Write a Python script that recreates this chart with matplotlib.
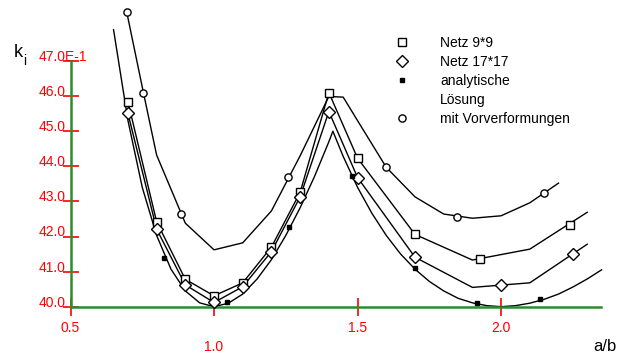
import numpy as np
import matplotlib
matplotlib.use("Agg")
import matplotlib.pyplot as plt
from matplotlib.lines import Line2D
from matplotlib.transforms import ScaledTranslation

plt.rcParams['font.family'] = ['Liberation Sans', 'DejaVu Sans']

# Netz 9*9 (squares)
sq_x = [0.7, 0.8, 0.9, 1.0, 1.1, 1.2, 1.3, 1.4, 1.5, 1.7, 1.9, 2.1, 2.3]
sq_y = [45.84, 42.42, 40.78, 40.31, 40.68, 41.70, 43.26, 46.10, 44.23, 42.06, 41.33, 41.64, 42.69]
sq_mx = [0.7, 0.8, 0.9, 1.0, 1.1, 1.2, 1.3, 1.4, 1.5, 1.7, 1.925, 2.24]
sq_my = [45.84, 42.42, 40.78, 40.31, 40.68, 41.70, 43.26, 46.10, 44.23, 42.06, 41.37, 42.32]

# Netz 17*17 (diamonds)
di_x = [0.7, 0.8, 0.9, 1.0, 1.1, 1.2, 1.3, 1.4, 1.5, 1.7, 1.9, 2.1, 2.3]
di_y = [45.51, 42.21, 40.62, 40.12, 40.57, 41.57, 43.13, 45.56, 43.68, 41.41, 40.55, 40.68, 41.78]
di_mx = [0.7, 0.8, 0.9, 1.0, 1.1, 1.2, 1.3, 1.4, 1.5, 1.7, 2.0, 2.25]
di_my = [45.51, 42.21, 40.62, 40.12, 40.57, 41.57, 43.13, 45.56, 43.68, 41.41, 40.62, 41.50]

# analytische Loesung
an_x = [0.65, 0.70, 0.75, 0.80, 0.85, 0.90, 0.95, 1.00, 1.05, 1.10, 1.15, 1.20,
        1.25, 1.30, 1.35, 1.40, 1.414, 1.45, 1.50, 1.55, 1.60, 1.65, 1.70, 1.75,
        1.80, 1.85, 1.90, 1.95, 2.00, 2.05, 2.10, 2.15, 2.20, 2.25, 2.30, 2.35]
an_y = [47.89, 45.31, 43.40, 42.03, 41.07, 40.45, 40.11, 40.00, 40.10, 40.36, 40.79, 41.34,
        42.03, 42.82, 43.71, 44.70, 45.00, 44.28, 43.40, 42.66, 42.03, 41.50, 41.07, 40.72,
        40.45, 40.24, 40.11, 40.03, 40.00, 40.03, 40.10, 40.21, 40.36, 40.56, 40.79, 41.05]
an_mx = [0.825, 1.045, 1.26, 1.48, 1.70, 1.915, 2.135]
an_my = [41.38, 40.14, 42.28, 43.72, 41.10, 40.10, 40.21]

# mit Vorverformungen (circles)
ci_x = [0.696, 0.754, 0.80, 0.90, 1.0, 1.1, 1.2, 1.3, 1.4, 1.45, 1.5, 1.6, 1.7, 1.8, 1.9, 2.0, 2.1, 2.2]
ci_y = [48.39, 46.10, 44.32, 42.38, 41.62, 41.82, 42.73, 44.30, 45.99, 45.97, 45.30, 43.97,
        43.13, 42.64, 42.52, 42.59, 42.96, 43.52]
ci_mx = [0.696, 0.754, 0.884, 1.259, 1.599, 1.848, 2.151]
ci_my = [48.39, 46.10, 42.63, 43.69, 43.97, 42.55, 43.23]

xticks = [0.5, 1.0, 1.5, 2.0]
xtick_labels = ['0.5', '1.0', '1.5', '2.0']
yticks = [40, 41, 42, 43, 44, 45, 46, 47]
ytick_labels = ['40.0', '41.0', '42.0', '43.0', '44.0', '45.0', '46.0', '47.0E-1']

W, H = 619, 358
fig = plt.figure(figsize=(W / 100, H / 100), dpi=100)
ax = fig.add_axes([70.5 / W, 1 - 306.7 / H, (601 - 70.5) / W, (306.7 - 61) / H])
ax.set_xlim(0.5, 2.348)
ax.set_ylim(40, 47)

lw = 1.0
ax.plot(sq_x, sq_y, color='black', lw=lw, clip_on=False)
ax.plot(di_x, di_y, color='black', lw=lw, clip_on=False)
ax.plot(an_x, an_y, color='black', lw=lw, clip_on=False)
ax.plot(ci_x, ci_y, color='black', lw=lw, clip_on=False)

sq_style = dict(ls='none', marker='s', ms=6.2, mfc='white', mec='black', mew=1.0)
di_style = dict(ls='none', marker='D', ms=5.8, mfc='white', mec='black', mew=1.0)
an_style = dict(ls='none', marker='s', ms=2.2, color='black')
ci_style = dict(ls='none', marker='o', ms=5.2, mfc='white', mec='black', mew=1.0)

ax.plot(sq_mx, sq_my, clip_on=False, zorder=3, **sq_style)
ax.plot(di_mx, di_my, clip_on=False, zorder=3, **di_style)
ax.plot(an_mx, an_my, clip_on=False, zorder=3, **an_style)
ax.plot(ci_mx, ci_my, clip_on=False, zorder=3, **ci_style)

green = '#2e8b2e'
for s in ['top', 'right']:
    ax.spines[s].set_visible(False)
for s in ['left', 'bottom']:
    ax.spines[s].set_color(green)
    ax.spines[s].set_linewidth(1.8)

ax.set_xticks(xticks)
ax.set_xticklabels(xtick_labels)
ax.set_yticks(yticks)
ax.set_yticklabels(ytick_labels)
ax.tick_params(axis='x', direction='inout', length=13, width=1.2, color='red',
               labelcolor='red', labelsize=10, pad=3.5)
ax.tick_params(axis='y', direction='inout', length=12, width=1.2, color='red',
               labelcolor='red', labelsize=10, pad=17)
for lab in ax.get_yticklabels():
    lab.set_horizontalalignment('left')
    lab.set_verticalalignment('baseline')
xl = ax.get_xticklabels()
xl[1].set_transform(xl[1].get_transform() + ScaledTranslation(0, -0.19, fig.dpi_scale_trans))

fig.text(14 / W, 1 - 57 / H, 'k', fontsize=13, ha='left', va='baseline')
fig.text(23.5 / W, 1 - 65 / H, 'i', fontsize=10, ha='left', va='baseline')
fig.text(617 / W, 1 - 351 / H, 'a/b', fontsize=12, ha='right', va='baseline')

handles = [
    Line2D([], [], **sq_style),
    Line2D([], [], **di_style),
    Line2D([], [], **an_style),
    Line2D([], [], ls='none', marker=''),
    Line2D([], [], **ci_style),
]
labels = ['Netz 9*9', 'Netz 17*17', 'analytische', 'Lösung', 'mit Vorverformungen']
fig.legend(handles, labels, loc='upper left', bbox_to_anchor=(396.4 / W, 1 - 36 / H),
           frameon=False, fontsize=10, handlelength=0.8, handletextpad=2.34,
           labelspacing=0.36, borderpad=0, borderaxespad=0)

fig.savefig('out.png', dpi=100)
